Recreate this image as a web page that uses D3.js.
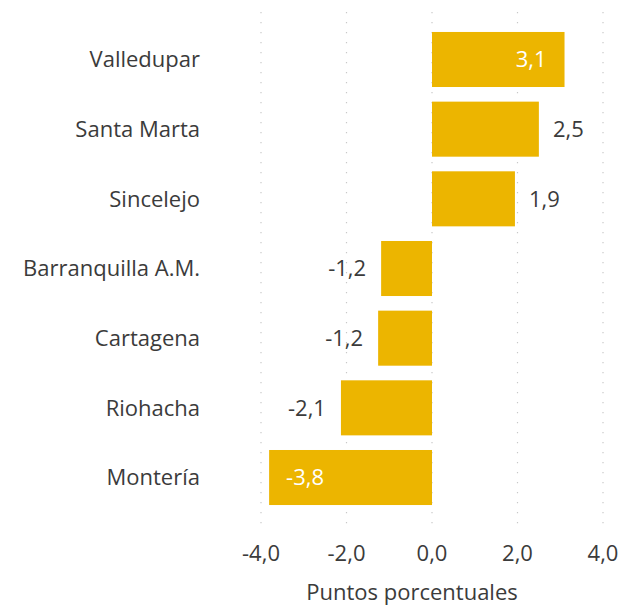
<!DOCTYPE html>
<html>
<head>
<meta charset="utf-8">
<script src="https://cdn.jsdelivr.net/npm/d3@7"></script>
<style>
  body { margin: 0; background: #fff; }
  text { font-family: "Open Sans", "Noto Sans", sans-serif; }
</style>
</head>
<body>
<div id="chart"></div>
<script>
const cities = ["Valledupar", "Santa Marta", "Sincelejo", "Barranquilla A.M.", "Cartagena", "Riohacha", "Montería"];
const values = [3.1, 2.5, 1.94, -1.19, -1.26, -2.13, -3.81];
const labels = ["3,1", "2,5", "1,9", "-1,2", "-1,2", "-2,1", "-3,8"];
const ticks = [-4, -2, 0, 2, 4];
const axisTitle = "Puntos porcentuales";

const width = 621, height = 606;
const plotLeft = 261, plotRight = 603, plotTop = 25, plotBottom = 512;
const fs = 22, ink = "#3b3b3b";

const svg = d3.select("#chart").append("svg")
  .attr("width", width).attr("height", height);

const x = d3.scaleLinear().domain([-4, 4]).range([plotLeft, plotRight]);
const y = d3.scaleBand().domain(cities).range([plotTop, plotBottom]).paddingInner(0.21).paddingOuter(0.1);

// gridlines
svg.append("g").selectAll("line")
  .data(ticks).enter().append("line")
  .attr("x1", d => x(d)).attr("x2", d => x(d))
  .attr("y1", 12).attr("y2", 532)
  .attr("stroke", "#c8c8c8").attr("stroke-width", 1.2)
  .attr("stroke-dasharray", "1.2,8.8");

// bars
svg.append("g").selectAll("rect")
  .data(cities).enter().append("rect")
  .attr("x", (d, i) => x(Math.min(0, values[i])))
  .attr("width", (d, i) => Math.abs(x(values[i]) - x(0)))
  .attr("y", d => y(d))
  .attr("height", y.bandwidth())
  .attr("fill", "#ECB500");

// value labels
svg.append("g").selectAll("text")
  .data(cities).enter().append("text")
  .each(function(d, i) {
    const v = values[i];
    const inside = Math.abs(v) > 3;
    const t = d3.select(this);
    let xp, anchor;
    if (v >= 0) {
      xp = inside ? x(v) - 18 : x(v) + 14;
      anchor = inside ? "end" : "start";
    } else {
      xp = inside ? x(v) + 17 : x(v) - 15;
      anchor = inside ? "start" : "end";
    }
    t.attr("x", xp).attr("text-anchor", anchor)
      .attr("fill", inside ? "#fff" : ink);
  })
  .attr("y", d => y(d) + y.bandwidth() / 2)
  .attr("dy", "0.35em")
  .attr("font-size", fs)
  .text((d, i) => labels[i]);

// category labels
svg.append("g").selectAll("text")
  .data(cities).enter().append("text")
  .attr("x", 200)
  .attr("y", d => y(d) + y.bandwidth() / 2)
  .attr("dy", "0.35em")
  .attr("text-anchor", "end")
  .attr("font-size", fs)
  .attr("fill", ink)
  .text(d => d);

// x tick labels
svg.append("g").selectAll("text")
  .data(ticks).enter().append("text")
  .attr("x", d => x(d))
  .attr("y", 553)
  .attr("dy", "0.35em")
  .attr("text-anchor", "middle")
  .attr("font-size", fs)
  .attr("fill", ink)
  .text(d => d3.format(".1f")(d).replace(".", ",").replace("−", "-"));

svg.append("text")
  .attr("x", 412)
  .attr("y", 592)
  .attr("dy", "0.35em")
  .attr("text-anchor", "middle")
  .attr("font-size", fs)
  .attr("fill", ink)
  .text(axisTitle);
</script>
</body>
</html>
